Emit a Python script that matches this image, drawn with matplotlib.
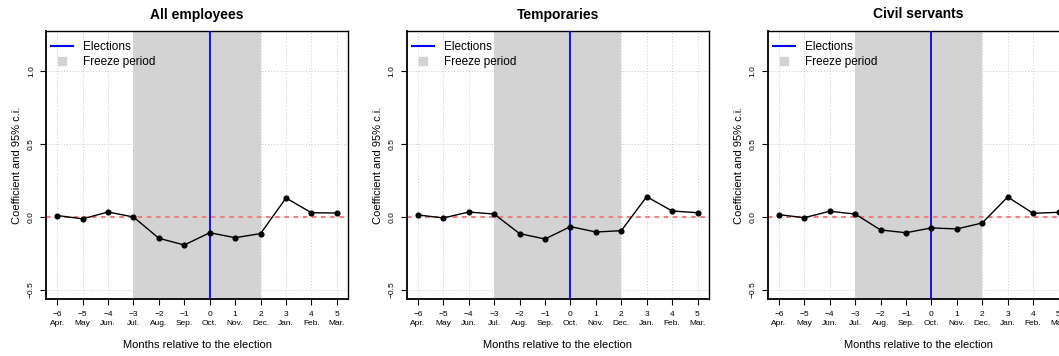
import matplotlib
matplotlib.use('Agg')
import matplotlib.pyplot as plt
from matplotlib.lines import Line2D

plt.rcParams['font.family'] = ['Liberation Sans', 'DejaVu Sans']

# event time in months, and the calendar month each one falls on
months = [-6, -5, -4, -3, -2, -1, 0, 1, 2, 3, 4, 5]
month_names = ['Apr.', 'May', 'Jun.', 'Jul.', 'Aug.', 'Sep.', 'Oct.', 'Nov.', 'Dec.',
               'Jan.', 'Feb.', 'Mar.']

titles = ['All employees', 'Temporaries', 'Civil servants']

coef_all = [0.008, -0.015, 0.032, -0.002, -0.148, -0.194, -0.110, -0.144, -0.116,
            0.128, 0.027, 0.025]
coef_temp = [0.012, -0.009, 0.032, 0.018, -0.116, -0.153, -0.068, -0.105, -0.096,
             0.137, 0.039, 0.027]
coef_civil = [0.014, -0.007, 0.037, 0.018, -0.091, -0.110, -0.077, -0.084, -0.043,
              0.135, 0.023, 0.030]

freeze_start = -3
freeze_end = 2
election = 0

W, H = 1059, 356
fig = plt.figure(figsize=(W / 100, H / 100), dpi=100)

lefts = [46, 406.7, 767.7]
ax_w = 302
ax_top, ax_bot = 31, 299
ax_h = ax_bot - ax_top

ticklabels = ['\u2212%d\n%s' % (-m, n) if m < 0 else '%d\n%s' % (m, n)
              for m, n in zip(months, month_names)]

for left, title, coef in zip(lefts, titles, [coef_all, coef_temp, coef_civil]):
    ax = fig.add_axes([left / W, (H - ax_bot) / H, ax_w / W, ax_h / H])
    ax.set_xlim(-6.44, 5.44)
    ax.set_ylim(-0.564, 1.272)

    # dotted grid underneath everything
    for m in months:
        ax.axvline(m, color='#cccccc', lw=0.7, ls=(0, (1, 2)), zorder=0)
    for yv in [-0.5, 0.0, 0.5, 1.0]:
        ax.axhline(yv, color='#cccccc', lw=0.7, ls=(0, (1, 2)), zorder=0)

    ax.axvspan(freeze_start, freeze_end, color='#d3d3d3', lw=0, zorder=1)
    ax.axhline(0, color='#f08080', lw=1.5, ls=(0, (2.2, 2.2)), zorder=2)
    ax.axvline(election, color='#0000ff', lw=1.3, zorder=3)
    ax.plot(months, coef, color='black', lw=1.0, marker='o', ms=3.4, zorder=4)

    ax.set_xticks(months)
    ax.set_xticklabels(ticklabels, fontsize=6, linespacing=1.3)
    ax.set_yticks([-0.5, 0.0, 0.5, 1.0])
    ax.set_yticklabels(['\u22120.5', '0.0', '0.5', '1.0'], fontsize=6,
                       rotation=90, va='center')
    ax.tick_params(axis='x', length=4, width=0.8, pad=5)
    ax.tick_params(axis='y', length=4, width=0.8, pad=4)
    for sp in ax.spines.values():
        sp.set_linewidth(1.0)
    ax.spines['left'].set_linewidth(1.3)
    ax.spines['bottom'].set_linewidth(1.3)

    ax.set_title(title, fontsize=10, fontweight='bold', y=1 + 12.5 / ax_h,
                 va='baseline', pad=0)
    ax.set_xlabel('Months relative to the election', fontsize=8, labelpad=9)
    ax.set_ylabel('Coefficient and 95% c.i.', fontsize=8, labelpad=4)

    handles = [Line2D([], [], color='#0000ff', lw=1.5),
               Line2D([], [], color='#d3d3d3', marker='s', ls='none', ms=5.5)]
    ax.legend(handles, ['Elections', 'Freeze period'], loc='upper left',
              bbox_to_anchor=(5 / ax_w, 1 - 10 / ax_h),
              frameon=False, fontsize=8.5, handlelength=1.9, handletextpad=0.85,
              borderaxespad=0, borderpad=0, labelspacing=0.27)

fig.savefig('out.png', dpi=100)
